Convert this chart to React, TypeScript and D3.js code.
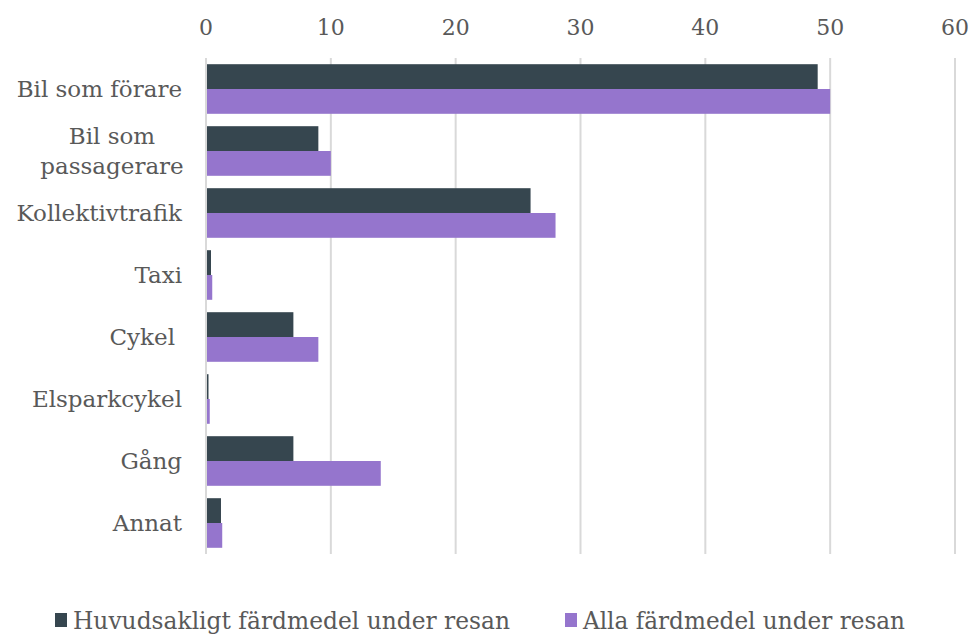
import React from "react";
import * as d3 from "d3";

const categories = ["Bil som förare", "Bil som passagerare", "Kollektivtrafik", "Taxi", "Cykel", "Elsparkcykel", "Gång", "Annat"];
const labelLines = [["Bil som förare"], ["Bil som", "passagerare"], ["Kollektivtrafik"], ["Taxi"], ["Cykel"], ["Elsparkcykel"], ["Gång"], ["Annat"]];
const seriesNames = ["Huvudsakligt färdmedel under resan", "Alla färdmedel under resan"];
const huvud = [49, 9, 26, 0.4, 7, 0.2, 7, 1.2];
const alla = [50, 10, 28, 0.5, 9, 0.3, 14, 1.3];
const ticks = [0, 10, 20, 30, 40, 50, 60];
const colors = ["#36464F", "#9575CD"];

export default function App() {
  const W = 972, H = 635;
  const x = d3.scaleLinear().domain([0, 60]).range([206, 955]);
  const y = d3.scaleBand<number>().domain(d3.range(categories.length)).range([58, 554]).paddingInner(0.2).paddingOuter(0.1);
  const inner = d3.scaleBand<number>().domain([0, 1]).range([0, y.bandwidth()]);
  const series = [huvud, alla];
  const font = "DejaVu Serif";
  return (
    <svg width={W} height={H} style={{ position: "absolute", left: 0, top: 0, background: "#fff", fontFamily: font }}>
      {ticks.map((t) => (
        <g key={t}>
          {t > 0 && <line x1={x(t)} x2={x(t)} y1={58} y2={554} stroke="#d9d9d9" strokeWidth={2} />}
          <text x={x(t)} y={35} textAnchor="middle" fontSize={22} fill="#595959">{t}</text>
        </g>
      ))}
      {series.map((vals, si) =>
        vals.map((v, i) => (
          <rect key={si + "-" + i} x={x(0)} y={(y(i) as number) + (inner(si) as number)} width={x(v) - x(0)} height={inner.bandwidth()} fill={colors[si]} />
        ))
      )}
      <line x1={x(0)} x2={x(0)} y1={58} y2={554} stroke="#d9d9d9" strokeWidth={2} />
      {labelLines.map((lines, i) => {
        const cy = (y(i) as number) + y.bandwidth() / 2;
        const lh = 30;
        const multi = lines.length > 1;
        const endX = categories[i] === "Cykel" ? 175 : 182;
        return (
          <text key={i} textAnchor={multi ? "middle" : "end"} fontSize={23} fill="#595959">
            {lines.map((l, j) => (
              <tspan key={j} x={multi ? 112 : endX} y={cy + 8 + (j - (lines.length - 1) / 2) * lh}>{l}</tspan>
            ))}
          </text>
        );
      })}
      {seriesNames.map((n, i) => {
        const lx = i === 0 ? 55 : 565;
        const tl = i === 0 ? 437 : 322;
        return (
          <g key={n}>
            <rect x={lx} y={613} width={12} height={14} fill={colors[i]} />
            <text x={lx + 18} y={629} fontSize={25} fill="#595959" textLength={tl} lengthAdjust="spacingAndGlyphs">{n}</text>
          </g>
        );
      })}
    </svg>
  );
}
